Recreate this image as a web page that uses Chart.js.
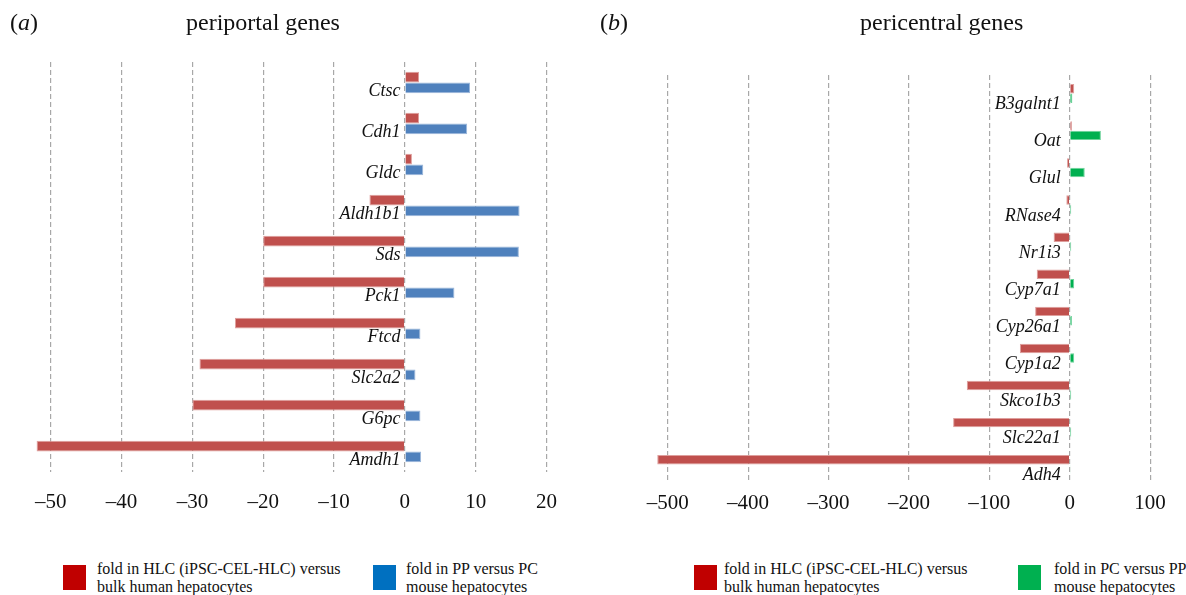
<!DOCTYPE html>
<html>
<head>
<meta charset="utf-8">
<script src="https://cdn.jsdelivr.net/npm/chart.js@4"></script>
<style>
  body { margin: 0; background: #fff; font-family: "Liberation Serif", "Times New Roman", serif; color: #111; }
  #page { position: relative; width: 1186px; height: 595px; overflow: hidden; }
  canvas { position: absolute; top: 0; }
  .txt { position: absolute; white-space: nowrap; font-size: 24px; top: 9px; }
  .key { position: absolute; top: 565px; width: 23px; height: 25px; }
  .keytext { position: absolute; top: 560px; font-size: 16px; line-height: 18px; white-space: nowrap; }
</style>
</head>
<body>
<div id="page">
  <canvas id="periportalChart" width="593" height="532" style="left:0"></canvas>
  <canvas id="pericentralChart" width="593" height="523" style="left:593px"></canvas>
  <div class="txt" style="left:10px">(<i>a</i>)</div>
  <div class="txt" style="left:186px">periportal genes</div>
  <div class="txt" style="left:600px">(<i>b</i>)</div>
  <div class="txt" style="left:860px">pericentral genes</div>
</div>
<script>
// periportal panel (a)
const periportalGenes = ["Ctsc", "Cdh1", "Gldc", "Aldh1b1", "Sds", "Pck1", "Ftcd", "Slc2a2", "G6pc", "Amdh1"];
const periportalHlc = [2.0, 2.0, 1.0, -5.0, -20.0, -20.0, -24.0, -29.0, -30.0, -52.0];
const periportalMouse = [9.2, 8.8, 2.6, 16.2, 16.1, 7.0, 2.2, 1.5, 2.2, 2.3];
const periportalTicks = [-50, -40, -30, -20, -10, 0, 10, 20];

// pericentral panel (b)
const pericentralGenes = ["B3galnt1", "Oat", "Glul", "RNase4", "Nr1i3", "Cyp7a1", "Cyp26a1", "Cyp1a2", "Skco1b3", "Slc22a1", "Adh4"];
const pericentralHlc = [5.6, 2.8, -3.3, -4.2, -20, -41, -43, -62, -128, -145, -513];
const pericentralMouse = [3.3, 38.8, 18.7, 1.9, 1.9, 5.6, 2.8, 5.6, 1.9, 1.9, 1.0];
const pericentralTicks = [-500, -400, -300, -200, -100, 0, 100];

const hlcLabel = "fold in HLC (iPSC-CEL-HLC) versus\nbulk human hepatocytes";
const ppLabel = "fold in PP versus PC\nmouse hepatocytes";
const pcLabel = "fold in PC versus PP\nmouse hepatocytes";

const serif = "'Liberation Serif', 'Times New Roman', serif";

function makeChart(id, genes, hlc, mouse, mouseLabel, colors, ticks, cfg) {
    let ctx = document.getElementById(id).getContext("2d");
    let chart = new Chart(ctx, {
        type: "bar",
        data: {
            labels: genes,
            datasets: [
                { label: hlcLabel, data: hlc, backgroundColor: "#C0504D", borderColor: "#DE9F9D", borderWidth: 1, keyColor: "#C00000" },
                { label: mouseLabel, data: mouse, backgroundColor: colors.bar, borderColor: colors.border, borderWidth: 1, keyColor: colors.key }
            ]
        },
        options: {
            indexAxis: "y",
            responsive: false,
            animation: false,
            devicePixelRatio: 1,
            layout: { padding: cfg.padding },
            datasets: { bar: { categoryPercentage: cfg.groupShare, barPercentage: 1 } },
            plugins: { legend: { display: false }, tooltip: { enabled: false } },
            scales: {
                x: {
                    type: "linear",
                    min: cfg.min,
                    max: cfg.max,
                    afterBuildTicks: scale => { scale.ticks = ticks.map(v => ({ value: v })); },
                    grid: { color: "#a8a8a8", lineWidth: 1.2, drawTicks: false },
                    border: { display: false, dash: [5, 3] },
                    ticks: {
                        padding: cfg.tickPad,
                        color: "#111",
                        font: { family: serif, size: 21 },
                        callback: v => v < 0 ? "\u2013" + Math.abs(v) : String(v)
                    }
                },
                y: {
                    // gene names sit against the zero line
                    position: { x: cfg.labelAt },
                    grid: { display: false },
                    border: { display: false },
                    ticks: {
                        labelOffset: cfg.labelOffset,
                        color: "#111",
                        font: { family: serif, size: 18, style: "italic" }
                    }
                }
            }
        }
    });

    // legend below the panel
    chart.data.datasets.forEach((ds, i) => {
        let box = document.createElement("div");
        box.className = "key";
        box.style.left = cfg.keyX[i] + "px";
        box.style.background = ds.keyColor;
        let txt = document.createElement("div");
        txt.className = "keytext";
        txt.style.left = (cfg.keyX[i] + cfg.keyGap[i]) + "px";
        txt.innerHTML = ds.label.split("\n").join("<br>");
        document.getElementById("page").append(box, txt);
    });
    return chart;
}

makeChart("periportalChart", periportalGenes, periportalHlc, periportalMouse, ppLabel,
    { bar: "#4F81BD", border: "#9BB7DA", key: "#0070C0" }, periportalTicks,
    { min: -53, max: 22.5, padding: { left: 29.5, right: 28.8, top: 62, bottom: 0 }, tickPad: 17.4,
      groupShare: 0.52, labelAt: -0.6, labelOffset: 9, keyX: [63, 373], keyGap: [34, 33] });

makeChart("pericentralChart", pericentralGenes, pericentralHlc, pericentralMouse, pcLabel,
    { bar: "#00B050", border: "#6FD39B", key: "#00B050" }, pericentralTicks,
    { min: -525, max: 125, padding: { left: 54.6, right: 15.8, top: 75, bottom: 0 }, tickPad: 7.4,
      groupShare: 0.51, labelAt: -11, labelOffset: 11, keyX: [694, 1018], keyGap: [30, 36] });
</script>
</body>
</html>
